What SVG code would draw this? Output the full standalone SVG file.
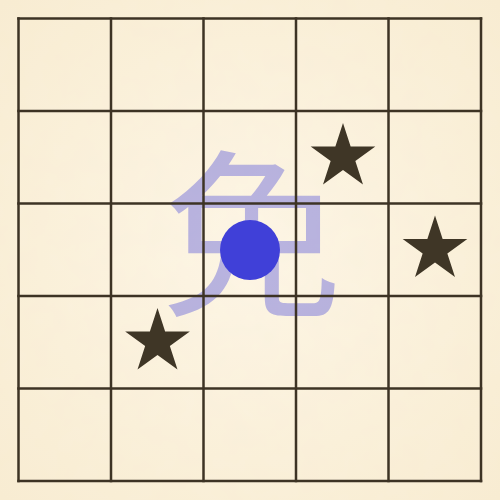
<svg xmlns="http://www.w3.org/2000/svg" width="500" height="500" viewBox="0 0 500 500">
  <defs>
    <radialGradient id="paper" cx="50%" cy="50%" r="70%">
      <stop offset="0" stop-color="#fdf6e6"/>
      <stop offset="1" stop-color="#f8ecd2"/>
    </radialGradient>
    <filter id="grain" x="0" y="0" width="100%" height="100%">
      <feTurbulence type="fractalNoise" baseFrequency="0.04" numOctaves="3" seed="7" result="n"/>
      <feColorMatrix type="matrix" values="0 0 0 0 0.9  0 0 0 0 0.8  0 0 0 0 0.6  0 0 0 0.1 0" in="n"/>
    </filter>
    <polygon id="star" points="0,-34 7.63,-10.5 32.34,-10.5 12.35,4.01 19.98,27.51 0,13 -19.98,27.51 -12.35,4.01 -32.34,-10.5 -7.63,-10.5"/>
    <style>
      .grid line { stroke: #3d3324; stroke-width: 2.5; stroke-linecap: square; }
      .star { fill: #3f3626; }
      .glyph { font-family: "Noto Sans CJK JP", "Noto Sans CJK SC", sans-serif; font-size: 180px; fill: #4040d8; fill-opacity: 0.36; }
    </style>
  </defs>
  <rect width="500" height="500" fill="url(#paper)"/>
  <rect width="500" height="500" filter="url(#grain)"/>
  <text class="glyph" x="252" y="302" text-anchor="middle">免</text>
  <g class="grid" id="board">
    <line x1="18.5" y1="18.5" x2="481" y2="18.5"/>
    <line x1="18.5" y1="111" x2="481" y2="111"/>
    <line x1="18.5" y1="203.5" x2="481" y2="203.5"/>
    <line x1="18.5" y1="296" x2="481" y2="296"/>
    <line x1="18.5" y1="388.5" x2="481" y2="388.5"/>
    <line x1="18.5" y1="481" x2="481" y2="481"/>
    <line x1="18.5" y1="18.5" x2="18.5" y2="481"/>
    <line x1="111" y1="18.5" x2="111" y2="481"/>
    <line x1="203.5" y1="18.5" x2="203.5" y2="481"/>
    <line x1="296" y1="18.5" x2="296" y2="481"/>
    <line x1="388.5" y1="18.5" x2="388.5" y2="481"/>
    <line x1="481" y1="18.5" x2="481" y2="481"/>
  </g>
  <g id="star1" class="star"><use href="#star" x="343" y="157"/></g>
  <g id="star2" class="star"><use href="#star" x="435" y="249.5"/></g>
  <g id="star3" class="star"><use href="#star" x="157.5" y="342"/></g>
  <g id="piece"><circle cx="250" cy="250" r="30" fill="#4040d8"/></g>
</svg>
